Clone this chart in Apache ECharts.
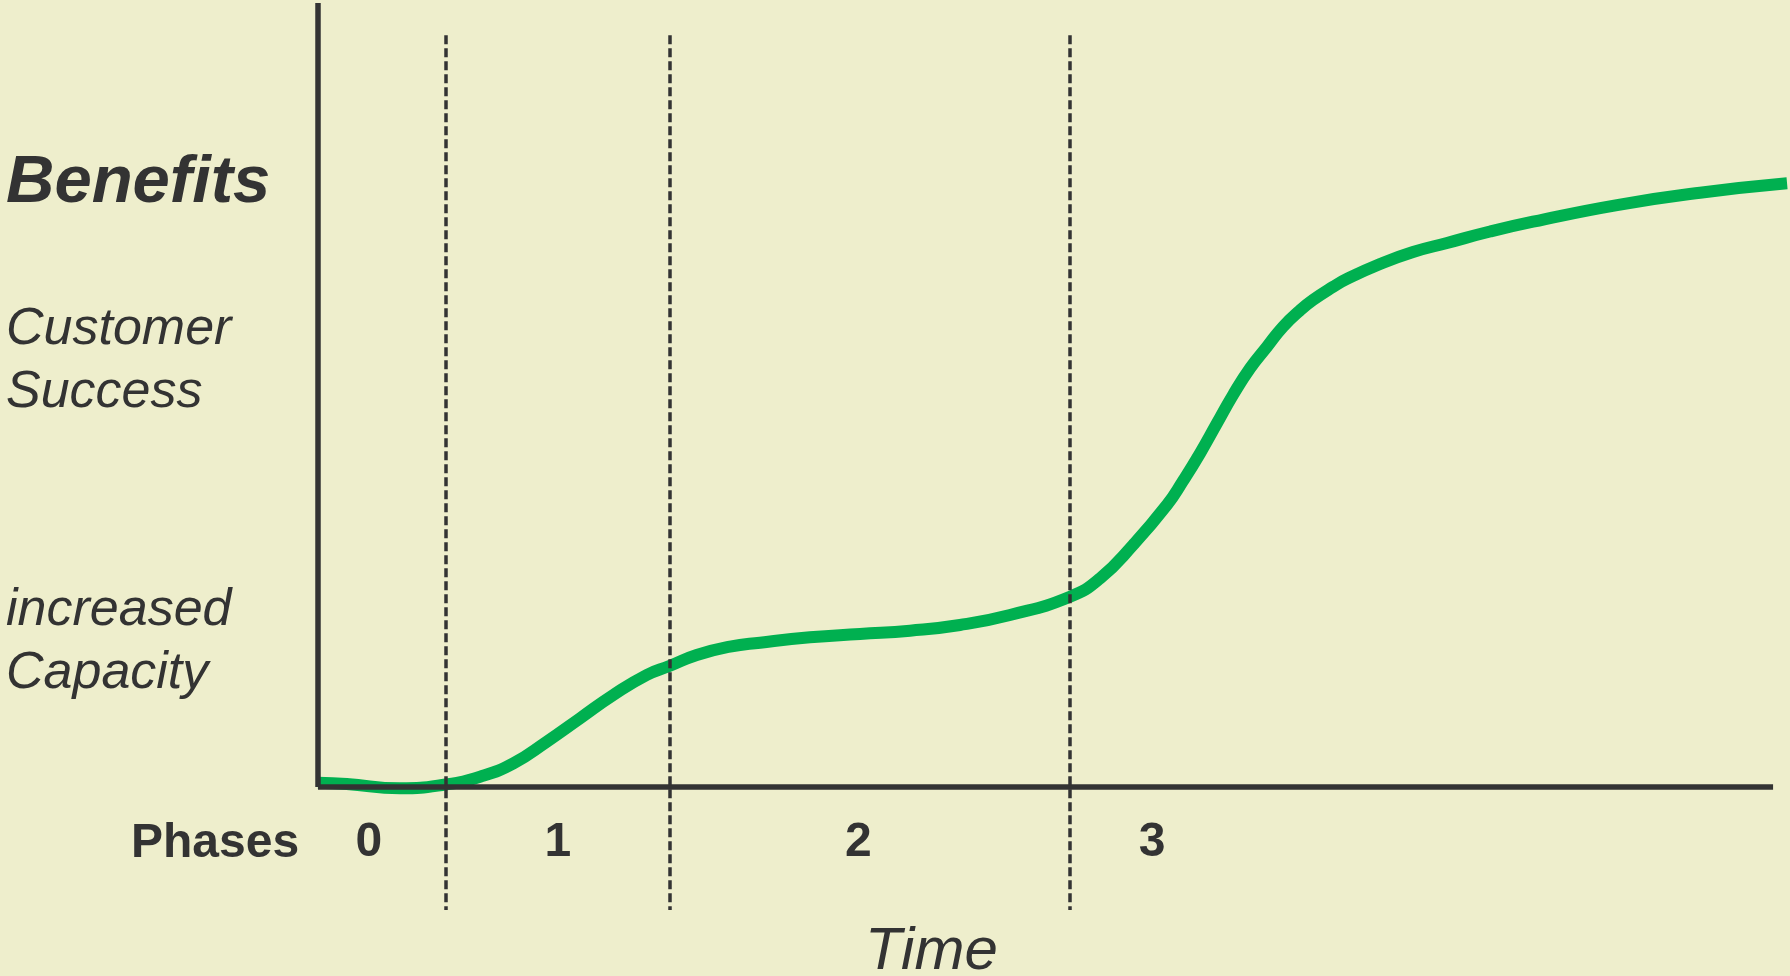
<!DOCTYPE html>
<html>
<head>
<meta charset="utf-8">
<script src="https://cdn.jsdelivr.net/npm/echarts@6/dist/echarts.min.js"></script>
<style>
  html, body { margin: 0; padding: 0; background: #EEEECC; }
  #chart { width: 1790px; height: 976px; }
</style>
</head>
<body>
<div id="chart"></div>
<script>
// Benefit curve over time (time 0..100, benefit 0..100)
const time = [0, 1.95, 5.57, 8.68, 11.01, 13.27, 15.54, 17.80, 20.06, 22.33, 23.87, 25.73, 27.99, 30.03, 33.42, 36.82, 40.22, 43.61, 47.01, 51.09, 53.13, 55.37, 57.68, 58.76, 59.92, 61.07, 62.16, 63.32, 64.47, 65.56, 66.71, 67.6, 68.95, 69.9, 72.15, 74.39, 76.7, 79.62, 82.54, 88.25, 93.89, 99.8];
const benefits = [0.55, 0.38, -0.17, 0.32, 1.31, 3.02, 5.78, 8.76, 11.73, 14.29, 15.43, 16.84, 17.9, 18.41, 19.09, 19.52, 19.94, 20.66, 21.94, 24.27, 26.62, 30.87, 36.0, 39.03, 42.56, 46.39, 50.0, 53.41, 56.16, 58.71, 60.78, 62.12, 63.78, 64.8, 66.71, 68.24, 69.39, 70.85, 72.1, 74.23, 75.8, 77.0];

// Phase boundaries (time) and the phase numbers written under the axis
const phaseBounds = [8.68, 23.9, 51.09];
const phaseLabels = ['0', '1', '2', '3'];
const phaseLabelTime = [3.46, 16.3, 36.7, 56.66];

// Axis extents
const timeAxisEnd = 98.85;
const benefitAxisTop = 100;
const dividerTop = 95.9;
const dividerBottom = -15.7;
const phaseLabelLevel = -7.1;

const ink = '#333333';
const font = '"Liberation Sans", Arial, sans-serif';

const chart = echarts.init(document.getElementById('chart'), null, { renderer: 'canvas' });

const curveData = time.map((t, i) => [t, benefits[i]]);
const labelData = phaseLabels.map((p, i) => ({ value: [phaseLabelTime[i], phaseLabelLevel], name: p }));

// left-hand captions and axis titles, placed by their top edge
const caption = (text, x, y, style) => ({
  type: 'text', silent: true,
  style: { text: text, x: x, y: y, font: style, fill: ink }
});

chart.setOption({
  backgroundColor: '#EEEECC',
  animation: false,
  grid: { left: 318, top: 3, width: 1472, height: 940.8, containLabel: false },
  xAxis: { type: 'value', min: 0, max: 100, show: false },
  yAxis: { type: 'value', min: -20, max: 100, show: false },
  series: [
    {
      // axis lines
      type: 'line',
      data: [],
      z: 1,
      silent: true,
      markLine: {
        silent: true,
        symbol: ['none', 'none'],
        label: { show: false },
        lineStyle: { color: ink, width: 5.5, type: 'solid' },
        data: [
          [{ coord: [0, 0] }, { coord: [timeAxisEnd, 0] }],
          [{ coord: [0, 0] }, { coord: [0, benefitAxisTop] }]
        ]
      }
    },
    {
      name: 'Benefits',
      type: 'line',
      data: curveData,
      z: 2,
      smooth: 0.5,
      showSymbol: false,
      clip: false,
      lineStyle: { color: '#00B050', width: 12, cap: 'butt', join: 'round' }
    },
    {
      // phase dividers and phase numbers
      type: 'scatter',
      data: labelData,
      z: 3,
      symbolSize: 0,
      silent: true,
      clip: false,
      itemStyle: { opacity: 1 },
      label: {
        show: true,
        position: [0, 0],
        align: 'center',
        verticalAlign: 'middle',
        formatter: p => p.name,
        fontFamily: font,
        fontWeight: 'bold',
        fontSize: 48,
        color: ink,
        opacity: 1,
        textBorderWidth: 0
      },
      markLine: {
        silent: true,
        symbol: ['none', 'none'],
        label: { show: false },
        lineStyle: { color: ink, width: 3.5, type: [9, 4], opacity: 1 },
        data: phaseBounds.map(b => [{ coord: [b, dividerTop] }, { coord: [b, dividerBottom] }])
      }
    }
  ],
  graphic: [
    caption('Benefits', 6, 150, 'italic bold 67px ' + font),
    caption('Customer', 6, 304, 'italic 52px ' + font),
    caption('Success', 6, 367, 'italic 52px ' + font),
    caption('increased', 6, 585, 'italic 52px ' + font),
    caption('Capacity', 6, 648, 'italic 52px ' + font),
    caption('Phases', 131, 820, 'bold 48px ' + font),
    caption('Time', 865, 922, 'italic 60px ' + font)
  ]
});
</script>
</body>
</html>
